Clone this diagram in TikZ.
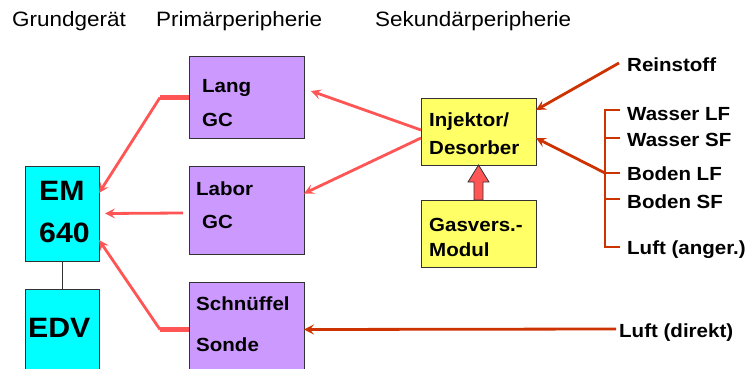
\documentclass[tikz,border=0pt]{standalone}
\usepackage{fontspec}
\setmainfont{Liberation Sans}[FakeStretch=1.08]
\usetikzlibrary{arrows.meta,calc}
\definecolor{cyanbox}{HTML}{00FFFF}
\definecolor{purplebox}{HTML}{CC99FF}
\definecolor{yellowbox}{HTML}{FFFF66}
\definecolor{pinkred}{HTML}{FF5555}
\definecolor{darkorange}{HTML}{CC3300}
\definecolor{boxline}{HTML}{333333}
\tikzset{
  box/.style={draw=boxline, line width=1pt, inner sep=0pt, outer sep=0pt, anchor=north west},
  lbl/.style={inner sep=0pt, anchor=base west, font=\fontsize{19}{22}\selectfont\bfseries},
  biglbl/.style={inner sep=0pt, anchor=base west, font=\fontsize{28}{32}\selectfont\bfseries},
  head/.style={inner sep=0pt, anchor=base west, font=\fontsize{20.8}{24}\selectfont},
  pinkarr/.style={draw=pinkred, line width=2.8pt, -{Stealth[length=10pt,width=10pt,inset=4pt]}},
  pinkthick/.style={draw=pinkred, line width=4.5pt},
  orarr/.style={draw=darkorange, line width=2.8pt, -{Stealth[length=10pt,width=10pt,inset=4pt]}},
  orline/.style={draw=darkorange, line width=2pt},
}
\begin{document}
\begin{tikzpicture}[x=1pt,y=-1pt]
\useasboundingbox (0,0) rectangle (747,369);
% headers
\node[head] (h1) at (12,26.7) {Grundgerät};
\node[head] (h2) at (156,26.7) {Primärperipherie};
\node[head] (h3) at (375,26.7) {Sekundärperipherie};
% boxes
\node[box, fill=cyanbox, minimum width=74pt, minimum height=95pt] (em) at (25,166) {};
\node[box, fill=cyanbox, minimum width=74pt, minimum height=80pt] (edv) at (25,289) {};
\node[box, fill=purplebox, minimum width=115pt, minimum height=81pt] (lang) at (189,57) {};
\node[box, fill=purplebox, minimum width=115pt, minimum height=88pt] (labor) at (189,166) {};
\node[box, fill=purplebox, minimum width=115pt, minimum height=87pt] (sn) at (189,282) {};
\node[box, fill=yellowbox, minimum width=115pt, minimum height=67pt] (inj) at (421,98) {};
\node[box, fill=yellowbox, minimum width=115pt, minimum height=67pt] (gas) at (421,200) {};
% box texts
\node[biglbl] (t1) at (39,200) {EM};
\node[biglbl] (t2) at (39,242) {640};
\node[biglbl] (t3) at (28,337) {EDV};
\node[lbl] (t4) at (202,92.7) {Lang};
\node[lbl] (t5) at (202,126.7) {GC};
\node[lbl] (t6) at (196,195) {Labor};
\node[lbl] (t7) at (202,228) {GC};
\node[lbl] (t8) at (196,310.7) {Schnüffel};
\node[lbl] (t9) at (196,351.7) {Sonde};
\node[lbl] (t10) at (429,126) {Injektor/};
\node[lbl] (t11) at (429,154) {Desorber};
\node[lbl] (t12) at (429,231) {Gasvers.-};
\node[lbl] (t13) at (429,256) {Modul};
% right labels
\node[lbl] (r1) at (627,72) {Reinstoff};
\node[lbl] (r2) at (627,120) {Wasser LF};
\node[lbl] (r3) at (627,146.7) {Wasser SF};
\node[lbl] (r4) at (627,180.7) {Boden LF};
\node[lbl] (r5) at (627,208) {Boden SF};
\node[lbl] (r6) at (627,254.7) {Luft (anger.)};
\node[lbl] (r7) at (619,337.3) {Luft (direkt)};
% EM - EDV
\draw[boxline, line width=1pt] (em.south) -- (edv.north);
% primary to EM
\draw[pinkthick] (lang.west) -- ++(-29,0) coordinate (lk);
\draw[pinkarr] (lk) -- ([yshift=20.5pt]em.east);
\draw[pinkarr] ([xshift=-6pt,yshift=-3pt]labor.west) -- ([xshift=6pt]em.east);
\draw[pinkthick] ([yshift=-4pt]sn.west) -- ++(-29,0) coordinate (sk);
\draw[pinkarr] (sk) -- ([yshift=-26.5pt]em.east);
% injector to primary
\draw[pinkarr] ([yshift=1.5pt]inj.west) -- ([xshift=7pt,yshift=6.5pt]lang.east);
\draw[pinkarr] ([yshift=-6.5pt]inj.west) -- ([yshift=-0.5pt]labor.east |- 0,193);
% block arrow Gasvers -> Injektor
\draw[fill=pinkred, draw=boxline, line width=0.8pt, line join=miter]
  ([xshift=-4.5pt]gas.north) -- ++(0,-18) -- ++(-6,0) -- (inj.south) -- ++(10.5,17)
  -- ++(-6,0) -- ([xshift=4.5pt]gas.north) -- cycle;
% reinstoff
\coordinate (rs) at (619,63);
\draw[orarr] (rs) -- ([yshift=21.5pt]inj.east);
% bracket
\coordinate (bt) at (605,110);
\coordinate (bb) at (605,247);
\coordinate (bm) at (605,173);
\draw[orline] (bt) -- (bb);
\foreach \yy in {110,138,173,199,247} {\draw[orline] (604,\yy) -- (620,\yy);}
\draw[orarr] (bm) -- ([yshift=-6.5pt]inj.east);
% luft direkt
\coordinate (ld) at (616,329);
\draw[orarr] (ld) -- ([yshift=-4pt]sn.east);
\end{tikzpicture}
\end{document}
